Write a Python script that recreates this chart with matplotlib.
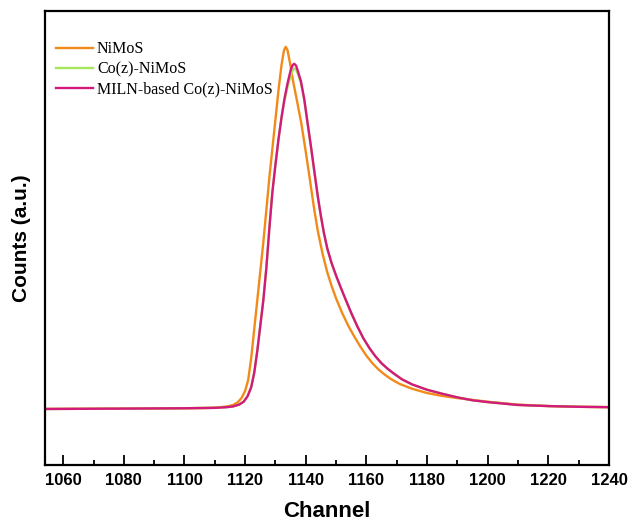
import matplotlib.pyplot as plt

# channel / normalised counts
nimos_ch = [1054, 1080, 1100, 1108, 1112, 1114, 1116, 1117.5, 1118.8, 1120, 1121, 1122, 1123,
            1124, 1125, 1126, 1127, 1128, 1129, 1130, 1131, 1132, 1132.8, 1133.4, 1134,
            1134.8, 1135.7, 1137, 1138.5, 1140, 1141.5, 1142.8, 1144, 1145.5, 1147, 1148.5,
            1150, 1152, 1154, 1156, 1158, 1160, 1162, 1164, 1166, 1168, 1171, 1175, 1180,
            1185, 1190, 1195, 1200, 1210, 1220, 1230, 1240]
nimos_val = [0, 0.001, 0.002, 0.003, 0.005, 0.007, 0.011, 0.018, 0.03, 0.05, 0.08, 0.14, 0.22,
             0.30, 0.38, 0.46, 0.55, 0.64, 0.72, 0.80, 0.88, 0.95, 0.99, 1.0, 0.99,
             0.955, 0.91, 0.855, 0.79, 0.71, 0.625, 0.55, 0.49, 0.43, 0.38, 0.34,
             0.305, 0.265, 0.23, 0.20, 0.172, 0.147, 0.126, 0.109, 0.095, 0.083, 0.069, 0.056,
             0.044, 0.036, 0.030, 0.025, 0.020, 0.012, 0.008, 0.006, 0.005]

milnco_ch = [1054, 1080, 1100, 1110, 1114, 1116, 1118, 1119.5, 1120.8, 1122, 1123, 1124, 1125,
             1126, 1127, 1128, 1129, 1130, 1131, 1132, 1133, 1134, 1135, 1135.7, 1136.2,
             1136.8, 1137.5, 1138.4, 1139.5, 1140.5, 1141.7, 1143, 1144, 1145, 1146, 1147.1,
             1148.5, 1150, 1151.5, 1153, 1155, 1157, 1159, 1161, 1163, 1165, 1167, 1169,
             1171.7, 1175, 1180, 1185, 1190, 1195, 1200, 1210, 1220, 1230, 1240]
milnco_val = [0, 0.001, 0.002, 0.003, 0.005, 0.007, 0.012, 0.02, 0.035, 0.06, 0.10, 0.16, 0.23,
              0.30, 0.39, 0.50, 0.60, 0.675, 0.745, 0.805, 0.858, 0.90, 0.935, 0.95, 0.953,
              0.948, 0.93, 0.905, 0.855, 0.795, 0.725, 0.645, 0.585, 0.532, 0.485, 0.443,
              0.403, 0.368, 0.336, 0.305, 0.265, 0.228, 0.195, 0.168, 0.145, 0.126, 0.111, 0.098,
              0.082, 0.068, 0.053, 0.042, 0.032, 0.024, 0.019, 0.011, 0.008, 0.006, 0.005]

coz_ch = milnco_ch
coz_val = [0, 0.001, 0.002, 0.003, 0.005, 0.007, 0.012, 0.02, 0.035, 0.06, 0.10, 0.16, 0.23,
           0.30, 0.39, 0.50, 0.60, 0.675, 0.745, 0.805, 0.853, 0.89, 0.92, 0.935, 0.94,
           0.937, 0.922, 0.9, 0.855, 0.795, 0.725, 0.645, 0.585, 0.532, 0.485, 0.443,
           0.403, 0.368, 0.336, 0.305, 0.265, 0.228, 0.195, 0.168, 0.145, 0.126, 0.111, 0.098,
           0.082, 0.068, 0.053, 0.042, 0.032, 0.024, 0.019, 0.011, 0.008, 0.006, 0.005]

labels = ['NiMoS', 'Co(z)-NiMoS', 'MILN-based Co(z)-NiMoS']
colors = ['#F28A1A', '#A6E65A', '#D4197C']

fig = plt.figure(figsize=(6.33, 5.22), dpi=100)
ax = fig.add_axes([0.0711, 0.109, 0.891, 0.870])

ax.plot(nimos_ch, nimos_val, color=colors[0], lw=1.7, label=labels[0])
ax.plot(coz_ch, coz_val, color=colors[1], lw=1.7, label=labels[1])
ax.plot(milnco_ch, milnco_val, color=colors[2], lw=1.7, label=labels[2])

ax.set_xlim(1054, 1240)
ax.set_ylim(-0.155, 1.099)
ax.set_xticks(range(1060, 1241, 20))
ax.set_xticks(range(1070, 1240, 20), minor=True)
ax.set_yticks([])
ax.tick_params(axis='x', which='major', direction='in', length=7, width=1.3, pad=6)
ax.tick_params(axis='x', which='minor', direction='in', length=3.5, width=1.3)
for lab in ax.get_xticklabels():
    lab.set_fontweight('bold')
    lab.set_fontfamily('Liberation Sans')
    lab.set_fontsize(12)
for sp in ax.spines.values():
    sp.set_linewidth(1.6)

ax.set_xlabel('Channel', fontsize=16, fontweight='bold', family='Liberation Sans', labelpad=9)
ax.set_ylabel('Counts (a.u.)', fontsize=15, fontweight='bold', family='Liberation Sans', labelpad=10)

ax.legend(loc='upper left', frameon=False, prop={'family': 'Liberation Serif', 'size': 11.5},
          handlelength=2.3, handletextpad=0.25, labelspacing=0.25,
          bbox_to_anchor=(0.0, 0.958), borderaxespad=0.3)

fig.savefig('out.png', dpi=100)
